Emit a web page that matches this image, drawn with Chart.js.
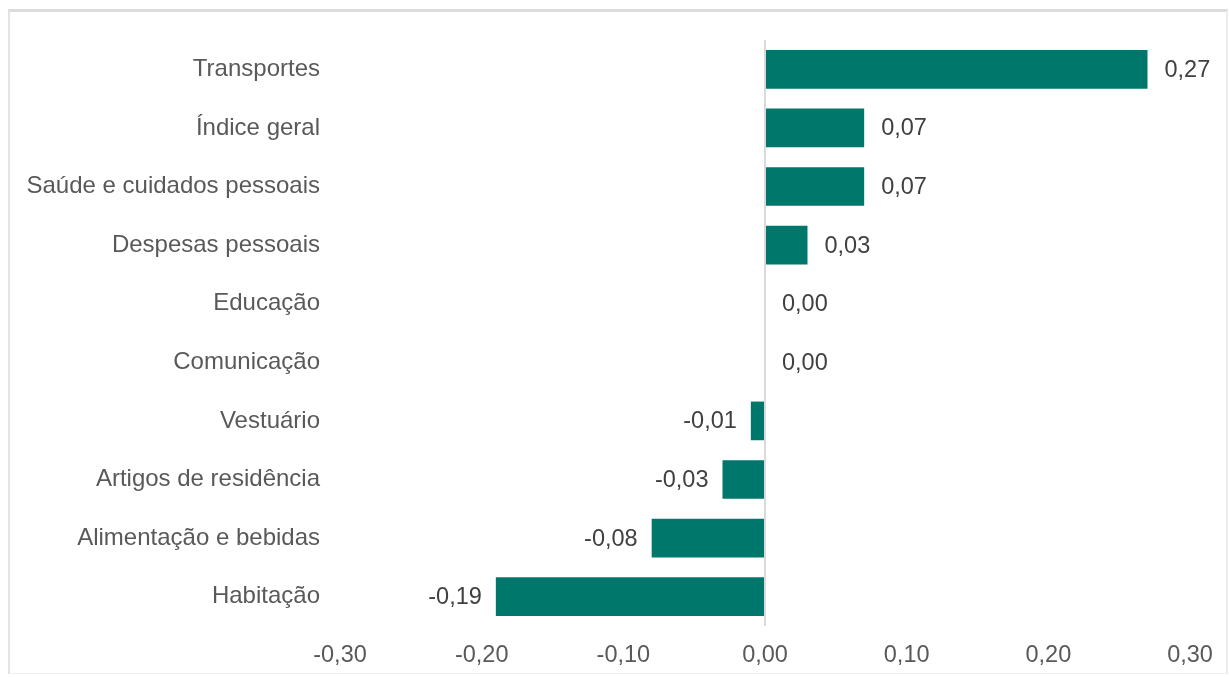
<!DOCTYPE html>
<html>
<head>
<meta charset="utf-8">
<script src="https://cdn.jsdelivr.net/npm/chart.js@4"></script>
<style>
  html, body { margin: 0; padding: 0; background: #fff; overflow: hidden; }
  #frame {
    position: absolute; left: 8px; top: 9px; width: 1220px; height: 665px;
    border-top: 3px solid #dcdcdc; border-left: 2px solid #e3e3e3;
    border-right: 2px solid #ececec; border-bottom: 1px solid #f0f0f0;
    box-sizing: border-box;
  }
  #wrap { position: absolute; left: 0; top: 0; width: 1229px; height: 677px; }
</style>
</head>
<body>
<div id="frame"></div>
<div id="wrap"><canvas id="ipcChart"></canvas></div>
<script>
const categories = ['Transportes', 'Índice geral', 'Saúde e cuidados pessoais', 'Despesas pessoais',
    'Educação', 'Comunicação', 'Vestuário', 'Artigos de residência', 'Alimentação e bebidas', 'Habitação'];
const values = [0.27, 0.07, 0.07, 0.03, 0.00, 0.00, -0.01, -0.03, -0.08, -0.19];
const xTicks = [-0.30, -0.20, -0.10, 0.00, 0.10, 0.20, 0.30];

const fmt = v => v.toFixed(2).replace('.', ',').replace('-0,00', '0,00');
const FONT = '"Liberation Sans", Arial, sans-serif';

// value labels beside each bar
const barLabels = {
    id: 'barLabels',
    afterDatasetsDraw(chart) {
        const ctx = chart.ctx;
        const meta = chart.getDatasetMeta(0);
        ctx.save();
        ctx.font = '23.5px ' + FONT;
        ctx.fillStyle = '#404040';
        ctx.textBaseline = 'middle';
        meta.data.forEach((bar, i) => {
            const v = values[i];
            if (v < 0) {
                ctx.textAlign = 'right';
                ctx.fillText(fmt(v), bar.x - 14, bar.y + 1);
            } else {
                ctx.textAlign = 'left';
                ctx.fillText(fmt(v), bar.x + 17, bar.y + 1);
            }
        });
        ctx.restore();
    }
};

document.addEventListener('DOMContentLoaded', function () {
    const ctx = document.getElementById('ipcChart').getContext('2d');
    new Chart(ctx, {
        type: 'bar',
        data: {
            labels: categories,
            datasets: [{
                data: values,
                backgroundColor: '#00776b',
                borderWidth: 0,
                barPercentage: 0.66,
                categoryPercentage: 1
            }]
        },
        plugins: [barLabels],
        options: {
            indexAxis: 'y',
            responsive: true,
            maintainAspectRatio: false,
            animation: false,
            layout: { padding: { top: 40, right: 39, bottom: 0, left: 0 } },
            plugins: { legend: { display: false }, tooltip: { enabled: false } },
            scales: {
                x: {
                    min: -0.3,
                    max: 0.3,
                    afterBuildTicks: axis => { axis.ticks = xTicks.map(v => ({ value: v })); },
                    afterFit: axis => { axis.height = 51; },
                    ticks: {
                        callback: v => fmt(v),
                        color: '#595959',
                        padding: 15,
                        maxRotation: 0,
                        font: { family: FONT, size: 23.5 }
                    },
                    grid: {
                        drawTicks: false,
                        color: c => (Math.abs(c.tick.value) < 1e-9 ? '#d9d9d9' : 'rgba(0,0,0,0)'),
                        lineWidth: 2
                    },
                    border: { display: false }
                },
                y: {
                    afterFit: axis => { axis.width = 340; },
                    ticks: {
                        color: '#595959',
                        padding: 20,
                        font: { family: FONT, size: 24 }
                    },
                    grid: { display: false, drawTicks: false },
                    border: { display: false }
                }
            }
        }
    });
});
</script>
</body>
</html>
